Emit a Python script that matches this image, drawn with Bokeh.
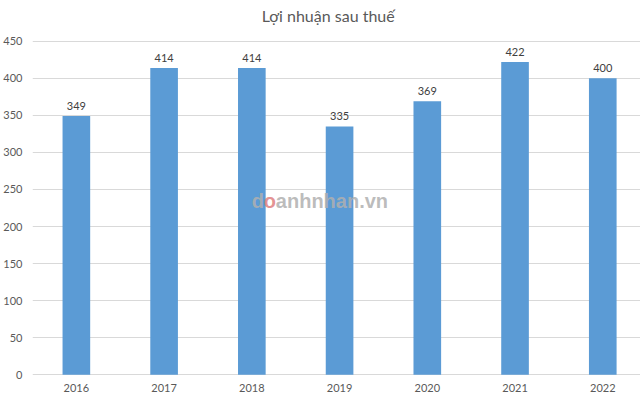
from bokeh.plotting import figure
from bokeh.models import Range1d, FixedTicker, ColumnDataSource
from bokeh.embed import file_html
from bokeh.resources import INLINE
from bokeh.core.properties import value

years = ["2016", "2017", "2018", "2019", "2020", "2021", "2022"]
profit = [349, 414, 414, 335, 369, 422, 400]
y_ticks = [0, 50, 100, 150, 200, 250, 300, 350, 400, 450]
title = "Lợi nhuận sau thuế"

FONT = "Lato"
TXT = "#595959"

xs = list(range(len(years)))
src = ColumnDataSource(dict(x=xs, top=profit, lab=[str(v) for v in profit]))
cat_src = ColumnDataSource(dict(x=xs, lab=years))

p = figure(frame_width=608, frame_height=394, output_backend="svg", toolbar_location=None,
           x_range=Range1d(-0.5, 6.43), y_range=Range1d(-26.6, 504.9),
           min_border_left=24, min_border_right=0, min_border_top=0, min_border_bottom=0)

p.outline_line_color = None
p.background_fill_color = "white"
p.border_fill_color = "white"

# title (drawn inside the plot area above the 450 line)
p.text(x=[2.87], y=[484.7], text=[title], text_align="center",
       text_baseline="middle", text_font=value(FONT), text_font_size="16px",
       text_color=TXT)

p.vbar(x="x", top="top", width=0.315, bottom=0, source=src,
       fill_color="#5B9BD5", line_color=None)
p.text(x="x", y="top", text="lab", source=src, text_align="center",
       text_baseline="bottom", y_offset=-6, text_font=value(FONT),
       text_font_size="11px", text_color="#404040")

# watermark (on top of bars)
wm_y = 233.8
wm_x = 2.0
p.text(x=[wm_x], y=[wm_y], text=["d"], text_align="left", text_baseline="middle",
       text_font=value("Liberation Sans"), text_font_style="bold",
       text_font_size="20px", text_color="#b0b0b0", text_alpha=0.85)
p.text(x=[wm_x], y=[wm_y], text=["o"], x_offset=12, text_align="left", text_baseline="middle",
       text_font=value("Liberation Sans"), text_font_style="bold",
       text_font_size="20px", text_color="#e07f7f", text_alpha=0.85)
p.text(x=[wm_x], y=[wm_y], text=["anhnhan.vn"], x_offset=24, text_align="left",
       text_baseline="middle", text_font=value("Liberation Sans"),
       text_font_style="bold", text_font_size="20px", text_color="#b0b0b0",
       text_alpha=0.85)

# category labels
p.text(x="x", y=-18.5, text="lab", source=cat_src, text_align="center",
       text_baseline="middle", text_font=value(FONT), text_font_size="11px",
       text_color=TXT)

p.xgrid.grid_line_color = None
p.ygrid.grid_line_color = "#D9D9D9"
p.ygrid.ticker = FixedTicker(ticks=y_ticks)

p.xaxis.visible = False

p.yaxis.ticker = FixedTicker(ticks=y_ticks)
p.yaxis.axis_line_color = None
p.yaxis.major_tick_line_color = None
p.yaxis.minor_tick_line_color = None
p.yaxis.major_label_standoff = 4
p.yaxis.major_label_text_font = FONT
p.yaxis.major_label_text_font_size = "11px"
p.yaxis.major_label_text_color = TXT

open("out.html", "w").write(file_html(p, INLINE))
